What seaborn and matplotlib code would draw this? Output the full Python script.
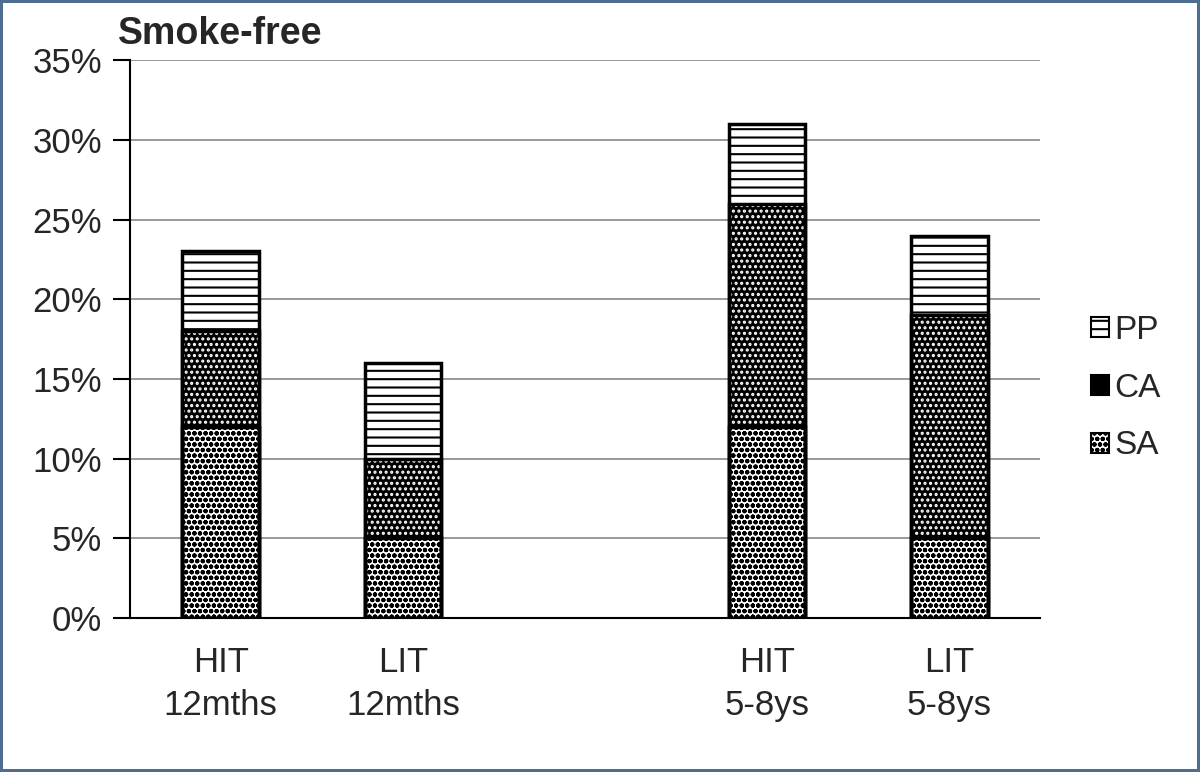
import numpy as np
import pandas as pd
import seaborn as sns
import matplotlib.pyplot as plt
from matplotlib.patches import Patch
from matplotlib.ticker import FuncFormatter, FixedLocator

# data (percent smoke-free)
groups = ["HIT\n12mths", "LIT\n12mths", " ", "HIT\n5-8ys", "LIT\n5-8ys"]
sa = [12, 5, np.nan, 12, 5]
ca = [6, 5, np.nan, 14, 14]
pp = [5, 6, np.nan, 5, 5]

df = pd.DataFrame({"group": groups, "SA": sa, "CA": ca, "PP": pp})
df["cum_sa"] = df["SA"]
df["cum_ca"] = df["SA"] + df["CA"]
df["cum_pp"] = df["cum_ca"] + df["PP"]

sns.set_style("white")
plt.rcParams["font.family"] = ["Liberation Sans", "DejaVu Sans"]
plt.rcParams["hatch.linewidth"] = 1.5

fig = plt.figure(figsize=(12, 7.72), dpi=100)
fig.patch.set_edgecolor("#4f6d8f")
fig.patch.set_linewidth(3)
ax = fig.add_axes([0.108, 0.1995, 0.759, 0.7225])

# layers drawn tallest first so each segment covers the one above it
layers = [
    ("cum_pp", "white", "black", "--"),
    ("cum_ca", "black", "white", "..."),
    ("cum_sa", "white", "black", "ooo"),
]
bw = 0.42
for col, face, hcol, hatch in layers:
    sns.barplot(data=df, x="group", y=col, order=groups, color=face, saturation=1,
                edgecolor=hcol, hatch=hatch, linewidth=0, width=bw,
                errorbar=None, ax=ax, zorder=3)
for col, _, _, _ in layers:
    sns.barplot(data=df, x="group", y=col, order=groups, color="black", fill=False,
                linewidth=2.5, width=bw, errorbar=None, ax=ax, zorder=4)

ax.set_xlim(-0.5, 4.5)
ax.set_ylim(0, 35)
ax.set_yticks(np.arange(0, 36, 5))
ax.yaxis.set_major_formatter(FuncFormatter(lambda v, p: f"{v:.0f}%"))
ax.yaxis.grid(True, color="#888888", linewidth=1.2, zorder=0)
ax.set_axisbelow(True)

ax.set_xticks(range(len(groups)))
ax.set_xticklabels(groups, fontsize=25, linespacing=1.4)
ax.tick_params(axis="x", which="major", length=0, pad=20)
ax.xaxis.set_minor_locator(FixedLocator(np.arange(-0.5, 5, 1)))
ax.tick_params(axis="x", which="minor", length=9, width=1.5, color="black", direction="out")
ax.tick_params(axis="y", length=12, width=1.5, color="black", direction="out",
               labelsize=25, pad=8, left=True)

for s in ["top", "right"]:
    ax.spines[s].set_visible(False)
for s in ["left", "bottom"]:
    ax.spines[s].set_color("black")
    ax.spines[s].set_linewidth(1.5)

ax.set_xlabel("")
ax.set_ylabel("")
fig.text(0.098, 1 - 44 / 772, "Smoke-free", fontsize=27, fontweight="bold",
         ha="left", va="baseline")

handles = [
    Patch(facecolor="white", edgecolor="black", hatch="--", linewidth=1.5, label="PP"),
    Patch(facecolor="black", edgecolor="black", hatch="...", linewidth=1.5, label="CA"),
    Patch(facecolor="white", edgecolor="black", hatch="ooo", linewidth=1.5, label="SA"),
]
fig.legend(handles=handles, loc="center left", bbox_to_anchor=(0.884, 0.497),
           frameon=False, fontsize=24, handlelength=0.55, handleheight=0.55,
           handletextpad=0.15, labelspacing=0.8)

fig.savefig("out.png", dpi=100)
